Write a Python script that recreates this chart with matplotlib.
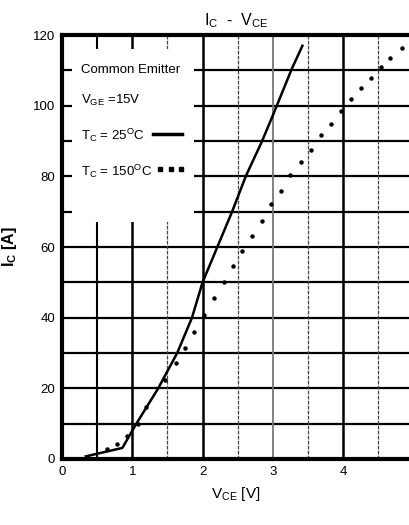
import matplotlib.pyplot as plt
from matplotlib.patches import Rectangle

plt.rcParams['font.family'] = ['Liberation Sans', 'DejaVu Sans']

# Tc = 25 C (solid)
vce_25 = [0.34, 0.86, 1.06, 1.37, 1.64, 1.85, 2.0, 2.21, 2.42, 2.62, 2.84, 3.0, 3.27, 3.42]
ic_25 = [0.7, 3.1, 10.0, 20.0, 30.0, 40.0, 50.0, 60.0, 70.0, 80.3, 89.7, 97.3, 110.5, 117.0]

# Tc = 150 C (dotted)
vce_150 = [0.35, 0.64, 0.78, 0.92, 1.08, 1.20, 1.47, 1.62, 1.75, 1.88, 2.02, 2.16,
           2.30, 2.44, 2.56, 2.70, 2.84, 2.98, 3.11, 3.25, 3.40, 3.54, 3.68, 3.83,
           3.97, 4.11, 4.25, 4.40, 4.54, 4.67, 4.83]
ic_150 = [0.5, 2.8, 4.2, 6.5, 9.9, 14.6, 22.4, 27.1, 31.4, 35.9, 40.8, 45.5,
          50.0, 54.5, 59.0, 63.2, 67.5, 72.2, 76.0, 80.4, 84.2, 87.6, 91.6, 94.9,
          98.4, 101.9, 105.0, 108.0, 110.9, 113.5, 116.5]

x_ticks = [0, 1, 2, 3, 4]
y_ticks = [0, 20, 40, 60, 80, 100, 120]

fig = plt.figure(figsize=(4.1, 5.25), dpi=100)
ax = fig.add_axes([0.151, 0.126, 0.849, 0.807])
ax.set_xlim(0, 4.95)
ax.set_ylim(0, 120)

# grid
for y in range(10, 120, 10):
    ax.axhline(y, color='black', lw=1.6, zorder=1)
for x in [1, 2, 4]:
    ax.axvline(x, color='black', lw=1.8, zorder=1)
ax.axvline(0.5, color='black', lw=1.5, zorder=1)
ax.axvline(3, color='#777777', lw=1.3, zorder=1)
for x in [1.5, 2.5, 3.5, 4.5]:
    ax.axvline(x, color='#444444', lw=0.9, ls=(0, (3, 1)), zorder=1)

# white legend area
ax.add_patch(Rectangle((0.14, 67), 1.74, 49, facecolor='white', edgecolor='none', zorder=2))

ax.plot(vce_25, ic_25, color='black', lw=1.8, zorder=3)
ax.plot(vce_150, ic_150, color='black', lw=0, marker='o', ms=2.2, zorder=3)

fs = 9.5
ax.text(0.27, 110, 'Common Emitter', fontsize=fs, va='center', zorder=4)
ax.text(0.27, 101.5, r'V$_{\mathregular{GE}}$ =15V', fontsize=fs, va='center', zorder=4)
ax.text(0.27, 91.5, r'T$_{\mathregular{C}}$ = 25$^{\mathregular{O}}$C', fontsize=fs, va='center', zorder=4)
ax.text(0.27, 81.5, r'T$_{\mathregular{C}}$ = 150$^{\mathregular{O}}$C', fontsize=fs, va='center', zorder=4)
ax.plot([1.29, 1.71], [92, 92], color='black', lw=2.5, zorder=4)
ax.plot([1.40, 1.55, 1.70], [82, 82, 82], color='black', lw=0, marker='s', ms=2.5, zorder=4)

for s in ['left', 'bottom', 'top']:
    ax.spines[s].set_linewidth(3)
ax.spines['right'].set_visible(False)
ax.tick_params(length=0, labelsize=9.5, pad=5)
ax.set_xticks(x_ticks)
ax.set_yticks(y_ticks)

ax.set_xlabel(r'V$_{\mathregular{CE}}$ [V]', fontsize=11, labelpad=5)
ax.set_ylabel(r'I$_{\mathregular{C}}$ [A]', fontsize=11.5, fontweight='bold', labelpad=10)
ax.set_title(r'I$_{\mathregular{C}}$  -  V$_{\mathregular{CE}}$', fontsize=11.5, pad=7)

fig.savefig('out.png', dpi=100)
